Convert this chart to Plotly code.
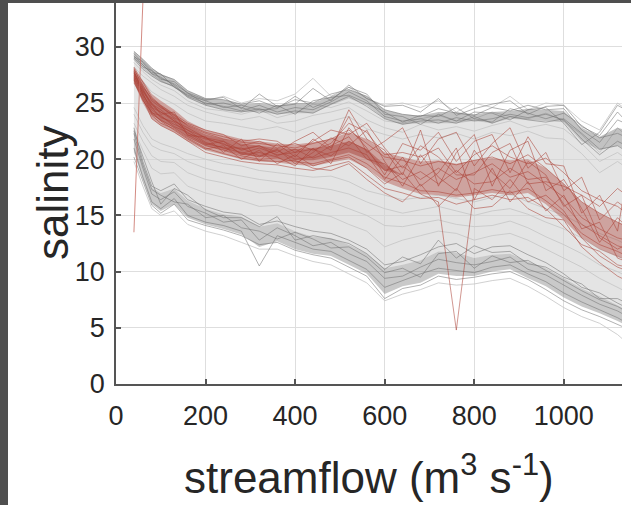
import plotly.graph_objects as go

# ---------------- data ----------------
X = [40, 60, 80, 100, 130, 160, 200, 240, 280, 320, 360, 400, 440, 480, 520, 560,
     600, 640, 680, 720, 760, 800, 840, 880, 920, 960, 1000, 1040, 1080, 1120, 1160]

# upper dark-grey ensemble
UD_LINES = [
    [29.6, 28.9, 28.1, 27.5, 27.1, 26.1, 25.4, 25.3, 24.9, 25.2, 24.6, 25.3, 25.0, 25.8, 26.2, 25.6, 24.4, 24.0, 23.8, 24.5, 24.1, 23.9, 24.6, 24.3, 24.8, 24.4, 24.5, 22.6, 21.5, 23.5, 22.8],
    [29.2, 28.4, 27.6, 27.3, 26.6, 25.6, 25.0, 24.7, 24.3, 24.8, 24.2, 24.6, 24.4, 25.1, 26.0, 25.2, 23.8, 23.4, 23.6, 23.2, 23.7, 23.4, 23.6, 24.0, 23.7, 24.0, 23.5, 21.8, 20.4, 21.6, 20.8],
    [29.0, 28.2, 27.9, 27.1, 26.9, 25.9, 24.9, 25.0, 24.6, 24.1, 24.8, 24.0, 25.2, 25.5, 25.7, 25.0, 24.2, 23.3, 23.9, 23.8, 24.6, 23.6, 23.3, 24.5, 24.1, 23.6, 24.1, 23.0, 21.9, 22.3, 21.6],
    [29.4, 28.6, 27.7, 27.6, 26.4, 25.7, 25.2, 24.6, 24.8, 24.4, 24.5, 25.6, 24.6, 25.3, 26.4, 25.8, 24.0, 23.8, 23.1, 24.0, 23.4, 24.2, 24.1, 23.5, 24.4, 24.6, 23.2, 21.3, 22.4, 24.8, 23.9],
    [28.9, 28.0, 27.4, 26.9, 26.5, 25.5, 24.8, 24.4, 24.2, 24.5, 24.0, 24.3, 24.1, 24.9, 25.6, 24.7, 23.6, 23.1, 23.4, 23.5, 23.2, 23.8, 23.2, 23.8, 23.5, 23.3, 23.6, 22.3, 20.9, 21.2, 20.2],
    [29.1, 28.7, 27.9, 27.2, 26.7, 25.9, 25.3, 25.5, 24.5, 25.8, 24.7, 24.9, 26.3, 25.2, 26.6, 25.4, 24.7, 24.8, 24.2, 25.4, 23.9, 24.5, 24.9, 25.2, 24.0, 24.7, 24.8, 22.9, 22.1, 24.2, 22.5],
]
UD_UPPER = [29.6, 28.9, 28.1, 27.6, 27.1, 26.1, 25.4, 25.3, 24.9, 25.0, 24.8, 25.0, 25.0, 25.6, 26.2, 25.6, 24.4, 24.0, 23.9, 24.2, 24.2, 24.0, 24.2, 24.3, 24.5, 24.4, 24.3, 22.8, 22.0, 22.8, 22.4]
UD_LOWER = [29.0, 28.1, 27.4, 26.9, 26.4, 25.5, 24.8, 24.4, 24.2, 24.2, 24.0, 24.1, 24.1, 24.8, 25.4, 24.8, 23.6, 23.1, 23.2, 23.2, 23.2, 23.4, 23.2, 23.6, 23.5, 23.4, 23.3, 21.6, 20.8, 21.2, 20.4]

# lower dark-grey ensemble
LD_LINES = [
    [22.8, 19.8, 17.6, 17.2, 17.8, 16.4, 15.8, 15.3, 15.1, 14.2, 14.5, 14.0, 13.6, 13.4, 12.8, 12.0, 10.6, 10.9, 11.5, 12.2, 12.5, 11.6, 12.2, 12.3, 11.5, 10.8, 9.8, 8.6, 8.1, 7.2, 6.4],
    [21.8, 19.2, 16.9, 16.4, 17.1, 15.8, 15.2, 14.4, 14.6, 12.8, 13.9, 13.2, 12.3, 12.6, 11.6, 10.9, 9.4, 9.6, 10.4, 11.1, 10.8, 10.6, 10.9, 11.3, 10.2, 9.7, 8.8, 7.9, 7.1, 6.5, 5.6],
    [21.0, 18.4, 16.2, 15.6, 16.5, 15.0, 14.4, 14.1, 13.6, 10.5, 13.2, 12.6, 12.0, 11.8, 11.0, 10.2, 8.6, 9.2, 9.8, 10.3, 10.1, 9.9, 10.4, 10.6, 9.8, 9.1, 8.1, 7.3, 6.6, 5.9, 5.0],
    [22.3, 19.5, 17.3, 16.8, 16.2, 16.0, 14.8, 15.0, 13.9, 13.6, 12.9, 13.5, 12.9, 12.1, 12.2, 11.3, 9.9, 10.3, 9.5, 11.6, 11.8, 10.3, 11.4, 10.8, 11.0, 10.1, 9.2, 8.3, 7.5, 6.9, 6.0],
    [20.2, 18.0, 15.9, 15.2, 16.0, 14.6, 14.1, 13.7, 13.2, 12.4, 12.6, 11.9, 11.5, 11.2, 10.4, 9.6, 7.6, 8.5, 8.8, 9.6, 9.3, 9.5, 9.8, 10.0, 9.3, 8.4, 7.4, 6.6, 6.0, 5.3, 4.6],
    [22.5, 20.2, 18.0, 16.0, 17.4, 16.8, 15.5, 14.8, 14.8, 14.0, 14.9, 12.8, 13.2, 12.9, 12.5, 11.6, 10.2, 11.3, 10.7, 12.8, 11.2, 12.3, 11.7, 11.8, 10.7, 10.4, 9.5, 8.9, 7.6, 7.6, 6.8],
]
LD_UPPER = [22.5, 19.7, 17.5, 17.0, 17.4, 16.3, 15.6, 15.1, 14.9, 14.0, 14.3, 13.6, 13.1, 13.0, 12.4, 11.6, 10.3, 10.6, 11.0, 11.8, 11.7, 11.2, 11.5, 11.6, 10.9, 10.3, 9.4, 8.5, 7.8, 7.0, 6.2]
LD_LOWER = [20.6, 18.2, 16.0, 15.4, 16.0, 14.8, 14.2, 13.8, 13.3, 12.2, 12.7, 12.0, 11.6, 11.4, 10.6, 9.8, 8.0, 8.7, 9.0, 9.8, 9.6, 9.6, 10.0, 10.2, 9.4, 8.7, 7.7, 6.9, 6.3, 5.6, 4.8]

# light-grey ensemble
LG_LINES = [
    [28.2, 27.4, 26.8, 26.2, 25.6, 24.8, 24.2, 23.8, 23.5, 23.8, 23.2, 23.4, 23.9, 24.2, 24.6, 23.5, 22.8, 22.4, 23.1, 22.6, 22.9, 22.5, 23.0, 23.4, 22.8, 23.1, 22.7, 21.4, 19.8, 20.6, 19.5],
    [27.6, 26.9, 26.0, 25.5, 24.9, 24.1, 23.4, 23.2, 22.9, 22.6, 22.9, 22.4, 23.0, 23.4, 23.8, 22.7, 22.2, 21.8, 22.2, 21.9, 22.3, 21.8, 22.4, 22.1, 22.5, 21.9, 21.8, 20.5, 18.8, 19.8, 18.7],
    [28.6, 27.8, 27.1, 26.6, 26.1, 25.2, 24.5, 24.3, 24.0, 24.4, 23.7, 24.1, 24.9, 24.6, 25.1, 24.3, 23.4, 23.2, 23.6, 23.9, 23.4, 23.6, 24.2, 23.8, 23.6, 24.1, 23.4, 22.2, 20.6, 22.8, 21.4],
    [24.0, 22.4, 21.2, 20.8, 20.5, 19.8, 19.2, 18.8, 18.5, 18.2, 18.0, 17.8, 17.5, 17.3, 16.9, 16.2, 15.6, 15.2, 15.5, 15.8, 15.4, 15.0, 15.4, 15.6, 15.1, 14.4, 13.8, 13.0, 12.0, 11.4, 10.6],
    [23.2, 21.6, 20.3, 19.8, 19.7, 18.8, 18.2, 17.9, 17.4, 17.0, 17.1, 16.6, 16.4, 16.2, 15.6, 15.0, 14.1, 14.0, 14.3, 14.6, 14.2, 14.0, 14.1, 14.5, 13.9, 13.1, 12.4, 11.6, 10.6, 10.0, 9.2],
    [22.6, 20.8, 19.2, 18.7, 18.8, 17.6, 17.0, 16.6, 16.3, 15.8, 15.9, 15.4, 15.2, 14.9, 14.2, 13.6, 12.2, 12.8, 13.2, 13.6, 13.4, 12.8, 13.2, 13.4, 12.8, 12.0, 11.2, 10.4, 9.4, 8.6, 7.8],
    [24.6, 23.0, 21.8, 21.4, 21.0, 20.5, 20.0, 19.6, 19.4, 19.0, 18.8, 18.6, 18.4, 18.5, 18.0, 17.2, 16.8, 16.4, 16.6, 16.8, 16.5, 16.2, 16.6, 16.9, 16.2, 15.6, 15.0, 14.2, 13.4, 12.8, 12.0],
    [19.8, 17.6, 15.6, 15.0, 15.4, 14.2, 13.6, 13.2, 12.6, 12.0, 12.0, 11.4, 10.9, 10.6, 9.8, 9.0, 7.4, 8.0, 8.4, 9.0, 8.8, 8.9, 9.2, 9.4, 8.7, 7.8, 6.8, 6.0, 5.4, 4.4, 3.0],
    [29.0, 28.4, 27.6, 27.0, 26.4, 25.8, 25.2, 25.6, 25.0, 25.4, 25.2, 25.8, 27.2, 25.6, 26.4, 25.4, 24.8, 25.0, 24.6, 25.2, 24.2, 25.0, 24.6, 25.6, 24.4, 25.0, 24.8, 23.4, 22.6, 25.0, 23.8],
]

# red ensemble
RED_LINES = [
    [28.0, 26.6, 25.2, 24.6, 23.9, 23.0, 22.3, 21.8, 21.5, 21.4, 21.2, 21.0, 21.4, 21.8, 22.6, 21.4, 20.2, 19.9, 19.4, 19.8, 19.5, 19.9, 20.2, 19.6, 20.4, 19.2, 17.8, 16.2, 15.2, 14.4, 13.6],
    [27.2, 25.6, 24.0, 23.5, 22.8, 22.0, 21.2, 20.8, 20.3, 20.0, 20.1, 19.8, 19.6, 20.0, 20.4, 19.6, 18.4, 17.9, 17.2, 17.1, 16.8, 17.0, 17.3, 17.0, 17.4, 16.3, 15.1, 13.4, 12.4, 11.8, 11.0],
    [27.6, 26.3, 24.8, 24.2, 23.6, 22.3, 21.8, 21.4, 20.5, 21.0, 20.4, 20.6, 20.9, 20.3, 21.6, 20.8, 19.0, 19.4, 18.2, 19.2, 18.2, 18.8, 19.6, 18.4, 18.9, 17.8, 16.6, 14.8, 13.8, 13.0, 12.6],
    [27.9, 25.8, 24.4, 23.8, 23.1, 22.6, 21.5, 21.0, 21.0, 20.3, 20.8, 20.0, 20.2, 21.2, 22.0, 20.0, 19.6, 18.2, 18.9, 17.8, 19.0, 17.8, 18.0, 19.2, 18.2, 18.4, 16.0, 14.2, 13.2, 12.3, 11.8],
    [27.4, 26.1, 25.0, 24.0, 24.2, 22.1, 22.0, 20.6, 21.8, 19.8, 21.4, 20.2, 21.8, 20.8, 24.4, 21.8, 20.8, 18.6, 22.6, 17.6, 20.6, 22.2, 17.6, 20.8, 21.6, 17.2, 18.2, 15.6, 12.6, 14.8, 13.2],
    [27.0, 25.2, 24.2, 23.4, 22.6, 21.8, 20.9, 21.2, 20.0, 20.8, 19.6, 20.4, 19.4, 19.9, 20.2, 19.2, 17.8, 18.8, 16.9, 16.2, 4.8, 17.4, 16.4, 18.2, 16.2, 16.8, 15.4, 13.0, 11.4, 10.4, 9.8],
    [28.2, 26.8, 25.5, 24.8, 24.0, 23.2, 22.6, 22.2, 21.2, 21.6, 21.0, 21.4, 20.8, 21.4, 23.2, 22.4, 20.4, 20.6, 20.2, 21.0, 18.8, 20.4, 21.2, 20.2, 19.6, 20.1, 18.8, 17.2, 16.4, 15.8, 14.6],
    [26.8, 25.4, 23.6, 23.0, 22.4, 21.6, 20.6, 20.2, 19.8, 19.6, 19.5, 19.2, 19.0, 19.4, 19.8, 18.6, 17.4, 17.0, 16.5, 16.6, 16.0, 16.4, 16.8, 16.4, 16.6, 15.6, 14.0, 12.4, 11.8, 10.6, 10.2],
    [27.8, 26.2, 24.6, 24.2, 23.4, 22.8, 21.9, 21.6, 20.8, 21.2, 20.6, 21.6, 22.4, 21.0, 23.8, 20.6, 21.6, 22.8, 19.6, 21.8, 22.4, 19.4, 21.4, 22.8, 19.2, 20.6, 17.2, 18.4, 14.6, 16.2, 15.0],
    [27.3, 25.9, 24.1, 23.9, 22.9, 22.4, 21.4, 21.0, 20.6, 20.2, 20.9, 19.6, 20.6, 21.9, 21.2, 22.6, 19.8, 17.6, 20.4, 18.4, 17.2, 20.8, 18.8, 17.4, 19.8, 18.6, 15.8, 16.8, 13.0, 12.0, 12.8],
    [27.7, 26.0, 24.9, 24.4, 23.4, 22.6, 21.9, 21.3, 20.9, 21.2, 20.3, 20.9, 20.1, 20.6, 21.0, 20.4, 18.2, 20.2, 17.6, 18.8, 21.0, 16.4, 19.2, 16.2, 18.0, 15.4, 16.8, 13.8, 14.4, 11.2, 10.6],
    [27.5, 25.7, 24.6, 23.7, 23.3, 22.2, 21.3, 21.6, 20.4, 20.6, 20.2, 19.4, 21.0, 19.6, 22.8, 21.0, 18.6, 21.4, 20.8, 22.4, 19.8, 21.6, 22.2, 18.8, 22.0, 19.6, 19.4, 15.2, 16.8, 13.6, 22.8],
    [27.1, 25.3, 23.9, 23.2, 22.7, 21.9, 21.0, 20.5, 20.1, 19.9, 19.8, 19.9, 19.2, 19.0, 19.6, 18.2, 17.0, 16.2, 17.8, 15.8, 17.4, 15.6, 15.8, 17.2, 15.6, 14.8, 14.6, 12.2, 10.8, 9.6, 8.8],
    [28.1, 26.4, 25.4, 24.7, 23.7, 23.1, 22.4, 22.0, 21.6, 21.8, 21.6, 20.6, 21.6, 22.6, 22.2, 23.2, 21.0, 19.2, 21.2, 20.2, 18.6, 18.6, 20.6, 21.4, 17.8, 18.0, 17.6, 16.8, 15.8, 17.4, 16.2],
]
RED_UPPER = [28.0, 27.0, 25.8, 25.2, 24.4, 23.4, 22.6, 22.2, 21.8, 21.6, 21.4, 21.3, 21.5, 21.8, 22.4, 21.8, 20.6, 20.2, 19.8, 19.9, 19.6, 19.9, 20.1, 19.9, 20.0, 19.2, 17.8, 16.2, 15.2, 14.4, 13.8]
RED_LOWER = [26.8, 25.0, 23.6, 23.0, 22.4, 21.6, 20.8, 20.4, 20.0, 19.8, 19.7, 19.5, 19.4, 19.7, 20.0, 19.2, 18.0, 17.4, 16.9, 16.8, 16.6, 16.8, 17.0, 16.8, 17.0, 16.0, 14.6, 13.0, 12.0, 11.3, 10.8]
# dense core of the red cloud (low streamflow part only)
CORE_X = [40, 60, 80, 100, 130, 160, 200, 240, 280, 320, 360, 400, 440, 480, 520, 560, 600, 640]
CORE_UPPER = [27.8, 26.6, 25.4, 24.8, 24.0, 23.0, 22.2, 21.8, 21.4, 21.2, 21.0, 20.9, 21.0, 21.2, 21.6, 20.9, 19.5, 18.6]
CORE_LOWER = [27.0, 25.4, 24.0, 23.4, 22.8, 22.0, 21.2, 20.8, 20.4, 20.2, 20.1, 19.9, 19.9, 20.2, 20.6, 20.0, 19.0, 18.6]
RED_SPIKE_X = [40, 62]
RED_SPIKE_Y = [13.5, 36.0]

X_TICKS = [0, 200, 400, 600, 800, 1000]
Y_TICKS = [0, 5, 10, 15, 20, 25, 30]

# ---------------- figure ----------------
fig = go.Figure()


def band(xs, up, lo, color):
    fig.add_trace(go.Scatter(x=xs + xs[::-1], y=up + lo[::-1], fill="toself",
                             fillcolor=color, line=dict(width=0), mode="lines",
                             hoverinfo="skip", showlegend=False))


def lines(ys_list, color, width=1.0):
    for ys in ys_list:
        fig.add_trace(go.Scatter(x=X, y=ys, mode="lines",
                                 line=dict(color=color, width=width),
                                 hoverinfo="skip", showlegend=False))


# light grey cloud
band(X, UD_LOWER, LD_UPPER, "rgba(210,210,210,0.6)")
lines(LG_LINES, "rgba(196,196,196,0.8)")
# dark grey bands
band(X, UD_UPPER, UD_LOWER, "rgba(120,120,120,0.45)")
band(X, LD_UPPER, LD_LOWER, "rgba(120,120,120,0.40)")
lines(UD_LINES, "rgba(115,115,115,0.55)")
lines(LD_LINES, "rgba(115,115,115,0.55)")
# red ensemble
band(X, RED_UPPER, RED_LOWER, "rgba(172,66,55,0.40)")
band(CORE_X, CORE_UPPER, CORE_LOWER, "rgba(165,60,50,0.45)")
lines(RED_LINES, "rgba(172,66,55,0.55)")
fig.add_trace(go.Scatter(x=RED_SPIKE_X, y=RED_SPIKE_Y, mode="lines",
                         line=dict(color="rgba(200,110,100,0.8)", width=1),
                         hoverinfo="skip", showlegend=False))

axis_common = dict(
    showgrid=True, gridcolor="rgb(222,222,222)", gridwidth=1,
    zeroline=False, showline=True, linecolor="#555555", linewidth=1.5,
    ticks="inside", ticklen=5, tickwidth=1.5, tickcolor="#555555",
    tickfont=dict(family="Liberation Sans, Arial", size=27, color="#262626"),
    mirror=False, automargin=False,
)
fig.update_xaxes(range=[0, 1130], tickvals=X_TICKS, ticklabelstandoff=7, **axis_common)
fig.update_yaxes(range=[0, 33.9], tickvals=Y_TICKS, ticklabelstandoff=4, **axis_common)

# page 631x505; dark frame 8 px on the left and 3 px on top (via page background)
OFF_X, OFF_Y = 8, 3
W, H = 631 - OFF_X, 505 - OFF_Y
L, R, T, B = 116 - OFF_X, 9, 0, 121
pw, ph = W - L - R, H - T - B


def px_to_paper_x(px):
    return (px - OFF_X - L) / pw


def py_to_paper_y(py):
    return (H - B - (py - OFF_Y)) / ph


fig.update_layout(
    width=W, height=H,
    margin=dict(l=L, r=R, t=T, b=B),
    paper_bgcolor="white", plot_bgcolor="white",
    showlegend=False,
    annotations=[
        dict(text="streamflow (m<sup>3</sup> s<sup>-1</sup>)", xref="paper", yref="paper",
             x=0.5, y=py_to_paper_y(474), xanchor="center", yanchor="middle",
             showarrow=False, font=dict(family="Liberation Sans, Arial", size=44, color="#262626")),
        dict(text="salinity", xref="paper", yref="paper", textangle=-90,
             x=px_to_paper_x(52), y=py_to_paper_y(193), xanchor="center", yanchor="middle",
             showarrow=False, font=dict(family="Liberation Sans, Arial", size=44, color="#262626")),
    ],
)

post = ("document.documentElement.style.background='#4f4f4f';"
        "document.body.style.margin='0px';"
        "document.body.style.background='#4f4f4f';"
        "var d=document.getElementById('{plot_id}');"
        "d.style.marginLeft='8px';d.style.marginTop='3px';")

fig.write_html("out.html", config={"displayModeBar": False}, post_script=post)
